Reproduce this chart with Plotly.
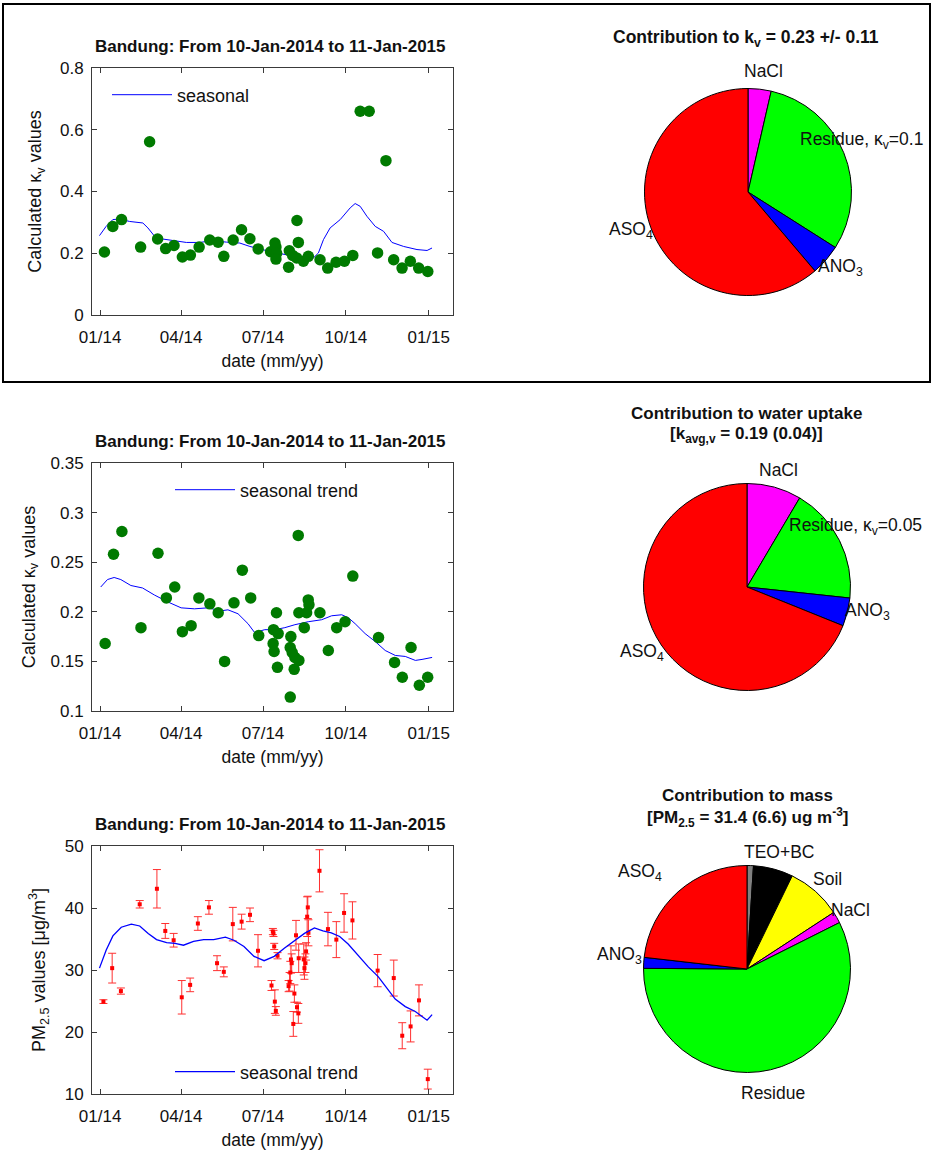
import pandas as pd
import plotly.graph_objects as go

W, H = 933, 1151
BASE = pd.Timestamp("2014-01-01")

# ---------------- data ----------------
# kappa (top panel) - days since 2014-01-01 and values
k1_days = [4.8, 14.1, 23.8, 45.0, 55.0, 63.9, 72.8, 82.1, 91.4, 100.3, 110.0, 121.8, 131.1, 137.4,
           147.8, 157.1, 166.4, 175.6, 189.4, 194.2, 195.3, 196.1, 195.3, 210.2, 209.4, 213.9, 218.7,
           220.2, 218.3, 225.8, 231.3, 244.3, 252.8, 262.1, 271.4, 280.7, 288.9, 298.9, 308.2, 317.5,
           326.1, 335.4, 344.6, 353.9, 364.0]
k1_vals = [0.204, 0.287, 0.309, 0.220, 0.561, 0.246, 0.215, 0.225, 0.188, 0.194, 0.220, 0.243, 0.236,
           0.190, 0.243, 0.276, 0.247, 0.214, 0.205, 0.233, 0.220, 0.200, 0.181, 0.208, 0.155, 0.193,
           0.306, 0.235, 0.185, 0.174, 0.190, 0.179, 0.152, 0.171, 0.174, 0.193, 0.660, 0.660, 0.201,
           0.500, 0.179, 0.152, 0.174, 0.152, 0.141]
k1_trend_days = [-0.7, 6.7, 14.1, 21.5, 32.7, 47.5, 53.1, 60.5, 69.8, 81.0, 95.8, 110.7, 125.5, 140.4,
                 155.2, 166.4, 177.5, 192.4, 207.2, 222.1, 237.0, 242.5, 248.1, 255.5, 266.7, 277.8,
                 283.3, 288.9, 296.3, 305.6, 314.9, 324.2, 337.2, 352.0, 363.2, 368.7]
k1_trend_vals = [0.257, 0.287, 0.309, 0.311, 0.303, 0.298, 0.282, 0.255, 0.246, 0.241, 0.235, 0.235,
                 0.241, 0.236, 0.233, 0.222, 0.214, 0.203, 0.195, 0.190, 0.185, 0.201, 0.244, 0.282,
                 0.309, 0.347, 0.361, 0.352, 0.320, 0.287, 0.271, 0.235, 0.222, 0.212, 0.209, 0.217]

# kappa (middle panel)
k2_days = [5.6, 14.9, 24.2, 45.4, 64.3, 73.6, 82.9, 91.4, 101.1, 109.7, 121.9, 131.2, 138.3, 148.7,
           158.0, 167.3, 176.2, 192.6, 195.9, 192.2, 193.3, 197.0, 197.8, 211.9, 211.2, 213.4, 211.2,
           216.4, 215.6, 220.1, 220.8, 220.8, 226.8, 231.2, 232.0, 229.4, 244.2, 253.5, 262.8, 272.1,
           280.7, 309.3, 327.1, 335.7, 345.4, 354.6, 363.9]
k2_vals = [0.168, 0.258, 0.281, 0.184, 0.259, 0.214, 0.225, 0.180, 0.186, 0.214, 0.208, 0.199, 0.150,
           0.209, 0.242, 0.214, 0.176, 0.182, 0.199, 0.168, 0.160, 0.144, 0.178, 0.175, 0.164, 0.159,
           0.114, 0.154, 0.142, 0.277, 0.199, 0.151, 0.184, 0.212, 0.207, 0.199, 0.199, 0.161, 0.184,
           0.190, 0.236, 0.174, 0.149, 0.134, 0.164, 0.126, 0.134]
k2_trend_days = [0.7, 8.2, 15.6, 23.0, 34.2, 47.2, 60.2, 75.1, 90.0, 104.8, 119.7, 134.6, 142.0, 153.2,
                 164.3, 171.7, 182.9, 194.1, 205.2, 216.4, 231.2, 246.1, 257.2, 268.4, 275.8, 283.3,
                 294.4, 305.6, 316.7, 327.9, 339.0, 350.2, 357.6, 368.8]
k2_trend_vals = [0.225, 0.2325, 0.2346, 0.2325, 0.2265, 0.224, 0.217, 0.210, 0.204, 0.203, 0.204,
                 0.201, 0.202, 0.198, 0.188, 0.179, 0.182, 0.182, 0.184, 0.187, 0.190, 0.192, 0.196,
                 0.197, 0.194, 0.188, 0.178, 0.170, 0.161, 0.156, 0.155, 0.151, 0.152, 0.154]

# PM2.5 (bottom panel)
pm_days = [3.7, 13.4, 23.1, 44.0, 63.1, 72.4, 81.7, 90.7, 100.0, 108.6, 120.9, 129.9, 137.4, 147.4,
           157.2, 166.5, 175.4, 190.4, 191.9, 192.6, 193.4, 194.1, 195.2, 197.1, 209.4, 210.5, 211.3,
           212.0, 212.8, 214.6, 215.8, 217.6, 218.7, 220.2, 220.6, 226.2, 227.0, 228.1, 228.8, 230.0,
           230.7, 231.4, 243.7, 253.1, 262.4, 271.0, 280.3, 308.3, 326.2, 335.6, 344.9, 354.2, 364.0]
pm_vals = [24.9, 30.3, 26.6, 40.6, 43.1, 36.3, 34.8, 25.6, 27.6, 37.5, 40.1, 31.1, 29.7, 37.4, 37.8,
           38.9, 33.1, 27.5, 36.2, 35.9, 33.8, 24.9, 23.4, 32.3, 27.4, 28.1, 29.6, 31.7, 31.1, 21.3,
           26.2, 35.6, 24.0, 23.0, 31.9, 31.7, 30.3, 31.1, 33.0, 38.6, 40.1, 36.0, 46.0, 36.6, 34.9,
           39.2, 38.0, 29.9, 28.7, 19.4, 20.9, 25.1, 12.4]
pm_err = [0.3, 2.4, 0.5, 0.6, 3.1, 1.2, 1.1, 2.7, 1.1, 1.1, 1.1, 1.2, 0.8, 2.7, 1.2, 1.1, 2.6, 0.8,
          0.5, 0.5, 0.5, 1.9, 0.7, 0.5, 0.9, 1.5, 1.8, 2.2, 1.5, 2.0, 1.4, 2.4, 0.8, 1.6, 2.3, 2.5,
          1.8, 1.5, 1.4, 3.2, 1.8, 2.1, 3.4, 2.7, 2.9, 3.1, 3.0, 2.6, 2.9, 2.1, 2.5, 2.5, 1.6]
pm_trend_days = [-0.7, 6.7, 14.2, 23.5, 34.7, 44.0, 53.4, 62.7, 73.9, 83.2, 92.6, 103.8, 115.0, 126.2,
                 139.2, 148.6, 159.8, 171.0, 182.2, 193.4, 204.6, 215.8, 227.0, 238.1, 247.5, 256.8,
                 266.1, 275.5, 286.7, 297.9, 309.1, 320.3, 327.8, 339.0, 350.1, 357.6, 363.2, 368.8]
pm_trend_vals = [30.3, 33.2, 35.5, 36.9, 37.4, 37.1, 35.9, 34.9, 34.4, 34.3, 34.0, 34.6, 34.9, 34.9,
                 35.3, 34.8, 33.8, 32.2, 31.5, 32.2, 33.5, 34.7, 35.9, 36.8, 36.3, 36.0, 35.4, 34.2,
                 32.4, 30.5, 28.9, 26.8, 25.3, 24.1, 23.3, 22.5, 21.9, 22.8]

# pies (clockwise from 12 o'clock)
pie1_labels = ["NaCl", "Residue", "ANO3", "ASO4"]
pie1_vals = [3.6, 30.4, 4.8, 61.2]
pie1_colors = ["#ff00ff", "#00ff00", "#0000ff", "#ff0000"]

pie2_labels = ["NaCl", "Residue", "ANO3", "ASO4"]
pie2_vals = [8.5, 18.2, 4.4, 68.9]
pie2_colors = ["#ff00ff", "#00ff00", "#0000ff", "#ff0000"]

pie3_labels = ["TEO", "BC", "Soil", "NaCl", "Residue", "ANO3", "ASO4"]
pie3_vals = [1.0, 6.2, 8.6, 1.8, 57.5, 1.7, 23.2]
pie3_colors = ["#808080", "#000000", "#ffff00", "#ff00ff", "#00ff00", "#0000ff", "#ff0000"]

tick_dates = ["2014-01-01", "2014-04-01", "2014-07-01", "2014-10-01", "2015-01-01"]
tick_text = ["01/14", "04/14", "07/14", "10/14", "01/15"]


def to_dates(days):
    return [BASE + pd.Timedelta(days=d) for d in days]


def px(x):
    return x / W


def py(y):
    return 1 - y / H


FONT = "Liberation Sans, Arial, Helvetica, sans-serif"
AX = "#3a3a3a"
TXT = "#111111"

fig = go.Figure()

# top panel
fig.add_trace(go.Scatter(x=to_dates(k1_trend_days), y=k1_trend_vals, mode="lines",
                         line=dict(color="#0000ff", width=1), name="seasonal",
                         xaxis="x", yaxis="y", legend="legend"))
fig.add_trace(go.Scatter(x=to_dates(k1_days), y=k1_vals, mode="markers",
                         marker=dict(color="#007a00", size=11.5), showlegend=False,
                         xaxis="x", yaxis="y"))
# middle panel
fig.add_trace(go.Scatter(x=to_dates(k2_trend_days), y=k2_trend_vals, mode="lines",
                         line=dict(color="#0000ff", width=1), name="seasonal trend",
                         xaxis="x2", yaxis="y2", legend="legend2"))
fig.add_trace(go.Scatter(x=to_dates(k2_days), y=k2_vals, mode="markers",
                         marker=dict(color="#007a00", size=11.5), showlegend=False,
                         xaxis="x2", yaxis="y2"))
# bottom panel
fig.add_trace(go.Scatter(x=to_dates(pm_days), y=pm_vals, mode="markers",
                         marker=dict(color="#ff0000", size=4, symbol="square"),
                         error_y=dict(type="data", array=pm_err, color="#ff3030", thickness=1, width=4),
                         showlegend=False, xaxis="x3", yaxis="y3"))
fig.add_trace(go.Scatter(x=to_dates(pm_trend_days), y=pm_trend_vals, mode="lines",
                         line=dict(color="#0000ff", width=1.3), name="seasonal trend",
                         xaxis="x3", yaxis="y3", legend="legend3"))

# pies
R = 103.5
for labels, vals, cols, (cx, cy) in [
    (pie1_labels, pie1_vals, pie1_colors, (748, 192)),
    (pie2_labels, pie2_vals, pie2_colors, (747, 587)),
    (pie3_labels, pie3_vals, pie3_colors, (747, 969)),
]:
    fig.add_trace(go.Pie(labels=labels, values=vals, sort=False, direction="clockwise", rotation=0,
                         marker=dict(colors=cols, line=dict(color="#000000", width=1)),
                         textinfo="none", hoverinfo="label+percent", showlegend=False,
                         domain=dict(x=[px(cx - R), px(cx + R)], y=[py(cy + R), py(cy - R)])))

xdom = [px(92), px(453)]
xaxis_common = dict(
    domain=xdom, type="date", range=["2013-12-23", "2015-01-28"],
    tickvals=tick_dates, ticktext=tick_text, ticks="inside", ticklen=5, tickcolor=AX,
    showline=True, linecolor=AX, linewidth=1, mirror="ticks", showgrid=False, zeroline=False,
    tickfont=dict(size=17, color=TXT), automargin=False, ticklabelstandoff=7,
    title=dict(text="date (mm/yy)", font=dict(size=17.5, color=TXT), standoff=8),
)
yaxis_common = dict(
    ticks="inside", ticklen=5, tickcolor=AX, showline=True, linecolor=AX, linewidth=1,
    mirror="ticks", showgrid=False, zeroline=False, tickfont=dict(size=17, color=TXT),
    automargin=False, ticklabelstandoff=4,
)
legend_common = dict(xanchor="left", yanchor="middle", bgcolor="rgba(0,0,0,0)",
                     font=dict(size=18, color=TXT), itemwidth=60, borderwidth=0)

fig.update_layout(
    template="none",
    width=W, height=H, margin=dict(l=0, r=0, t=0, b=0, pad=0, autoexpand=False),
    paper_bgcolor="white", plot_bgcolor="white",
    font=dict(family=FONT, color=TXT),
    xaxis=dict(xaxis_common, anchor="y"),
    xaxis2=dict(xaxis_common, anchor="y2"),
    xaxis3=dict(xaxis_common, anchor="y3"),
    yaxis=dict(yaxis_common, domain=[py(315), py(68)], range=[0, 0.8], anchor="x",
               tickvals=[0, 0.2, 0.4, 0.6, 0.8], ticktext=["0", "0.2", "0.4", "0.6", "0.8"],
               title=dict(text="Calculated κ<sub>v</sub> values", font=dict(size=18), standoff=13)),
    yaxis2=dict(yaxis_common, domain=[py(711), py(463)], range=[0.1, 0.35], anchor="x2",
                tickvals=[0.1, 0.15, 0.2, 0.25, 0.3, 0.35],
                ticktext=["0.1", "0.15", "0.2", "0.25", "0.3", "0.35"],
                title=dict(text="Calculated κ<sub>v</sub> values", font=dict(size=18), standoff=10)),
    yaxis3=dict(yaxis_common, domain=[py(1094), py(846)], range=[10, 50], anchor="x3",
                tickvals=[10, 20, 30, 40, 50], ticktext=["10", "20", "30", "40", "50"],
                title=dict(text="PM<sub>2.5</sub> values [μg/m<sup>3</sup>]", font=dict(size=18),
                           standoff=14)),
    legend=dict(legend_common, x=px(107), y=py(95)),
    legend2=dict(legend_common, x=px(170), y=py(490)),
    legend3=dict(legend_common, x=px(170), y=py(1072)),
)

ann = []


def text(x, y, s, size=17.5, bold=False, xanchor="center"):
    ann.append(dict(x=px(x), y=py(y), xref="paper", yref="paper", showarrow=False,
                    text=("<b>%s</b>" % s) if bold else s, xanchor=xanchor, yanchor="middle",
                    font=dict(size=size, color=TXT, family=FONT)))


title = "Bandung: From 10-Jan-2014 to 11-Jan-2015"
text(270, 46, title, 17, True)
text(270, 441, title, 17, True)
text(270, 824, title, 17, True)

# pie 1 text
text(746, 38, "Contribution to k<sub>v</sub> = 0.23 +/- 0.11", 17.5, True)
text(763, 71, "NaCl")
text(798, 140, "Residue, κ<sub>v</sub>=0.1", xanchor="left")
text(816, 268, "ANO<sub>3</sub>", xanchor="left")
text(655, 230, "ASO<sub>4</sub>", xanchor="right")
# pie 2 text
text(746, 413, "Contribution to water uptake", 17, True)
text(746, 435, "[k<sub>avg,v</sub> = 0.19 (0.04)]", 17, True)
text(778, 470, "NaCl")
text(787, 527, "Residue, κ<sub>v</sub>=0.05", xanchor="left")
text(843, 611, "ANO<sub>3</sub>", xanchor="left")
text(666, 652, "ASO<sub>4</sub>", xanchor="right")
# pie 3 text
text(747, 795, "Contribution to mass", 17, True)
text(747, 817, "[PM<sub>2.5</sub> = 31.4 (6.6) ug m<sup>-3</sup>]", 17, True)
text(779, 852, "TEO+BC")
text(827, 879, "Soil")
text(850, 910, "NaCl")
text(664, 872, "ASO<sub>4</sub>", xanchor="right")
text(644, 955, "ANO<sub>3</sub>", xanchor="right")
text(773, 1093, "Residue")

fig.update_layout(annotations=ann)

# frame around the top row
fig.add_shape(type="rect", xref="paper", yref="paper", x0=px(3), x1=px(930), y0=py(382), y1=py(4),
              line=dict(color="#000000", width=2), fillcolor="rgba(0,0,0,0)")

fig.write_html("out.html", config={"displayModeBar": False},
               post_script="document.body.style.margin='0px';")
